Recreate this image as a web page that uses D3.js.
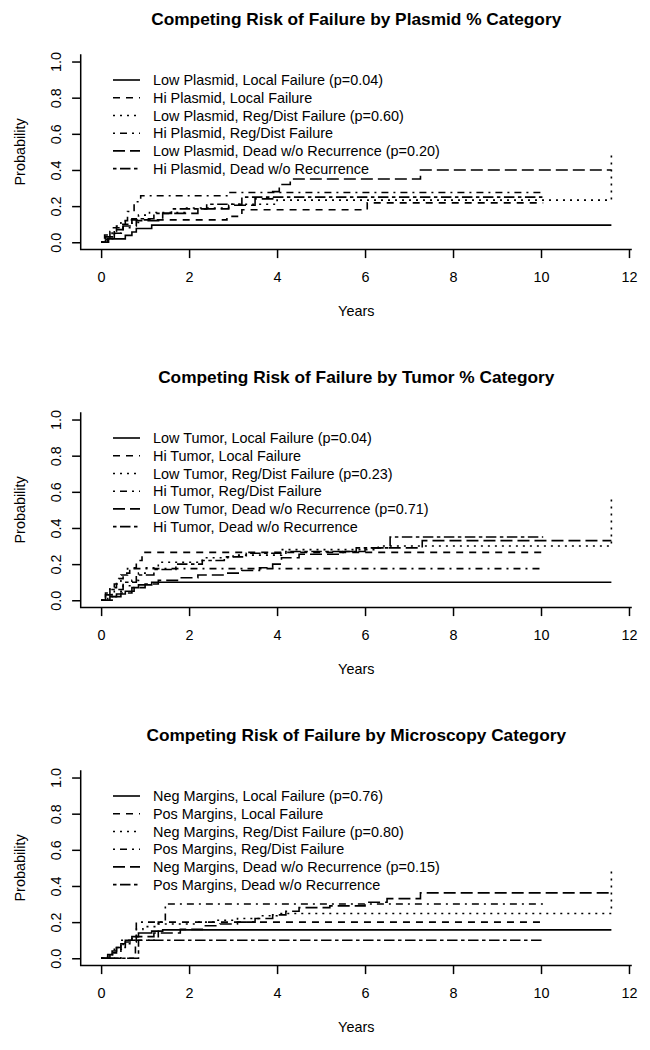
<!DOCTYPE html>
<html><head><meta charset="utf-8">
<script src="https://cdn.jsdelivr.net/npm/d3@7"></script>
<style>body{margin:0;background:#fff}svg{display:block}text{font-family:"Liberation Sans",Arial,sans-serif;fill:#000}</style>
</head><body>
<script>
// ---------- data ----------
const xTicks = [0, 2, 4, 6, 8, 10, 12];
const yTicks = [0, 0.2, 0.4, 0.6, 0.8, 1.0];
const yTickLabels = ["0.0", "0.2", "0.4", "0.6", "0.8", "1.0"];

const titles = [
  "Competing Risk of Failure by Plasmid % Category",
  "Competing Risk of Failure by Tumor % Category",
  "Competing Risk of Failure by Microscopy Category"
];
const legendPlasmid = ["Low Plasmid, Local Failure (p=0.04)", "Hi Plasmid, Local Failure",
  "Low Plasmid, Reg/Dist Failure (p=0.60)", "Hi Plasmid, Reg/Dist Failure",
  "Low Plasmid, Dead w/o Recurrence (p=0.20)", "Hi Plasmid, Dead w/o Recurrence"];
const legendTumor = ["Low Tumor, Local Failure (p=0.04)", "Hi Tumor, Local Failure",
  "Low Tumor, Reg/Dist Failure (p=0.23)", "Hi Tumor, Reg/Dist Failure",
  "Low Tumor, Dead w/o Recurrence (p=0.71)", "Hi Tumor, Dead w/o Recurrence"];
const legendMicro = ["Neg Margins, Local Failure (p=0.76)", "Pos Margins, Local Failure",
  "Neg Margins, Reg/Dist Failure (p=0.80)", "Pos Margins, Reg/Dist Failure",
  "Neg Margins, Dead w/o Recurrence (p=0.15)", "Pos Margins, Dead w/o Recurrence"];

// [years, cumulative probability]
const p1LowLocal = [[0,0],[0.17,0.019],[0.55,0.038],[0.7,0.057],[0.8,0.076],[1.15,0.095],[11.6,0.095]];
const p1HiLocal  = [[0,0],[0.1,0.03],[0.2,0.06],[0.35,0.09],[0.45,0.1],[0.55,0.124],[2.86,0.143],[3.2,0.18],[6.05,0.218],[10.05,0.218]];
const p1LowReg   = [[0,0],[0.12,0.02],[0.3,0.05],[0.5,0.08],[0.7,0.11],[0.85,0.15],[1.1,0.165],[1.9,0.19],[2.9,0.21],[4.0,0.233],[11.6,0.48]];
const p1HiReg    = [[0,0],[0.08,0.04],[0.25,0.08],[0.45,0.12],[0.6,0.17],[0.75,0.224],[0.9,0.257],[2.93,0.275],[10.05,0.275]];
const p1LowDead  = [[0,0],[0.15,0.02],[0.3,0.05],[0.5,0.09],[0.8,0.12],[1.4,0.16],[2.2,0.185],[2.9,0.205],[3.5,0.24],[3.9,0.28],[4.05,0.32],[4.3,0.35],[7.26,0.40],[11.6,0.40]];
const p1HiDead   = [[0,0],[0.1,0.03],[0.3,0.07],[0.5,0.1],[0.7,0.13],[1.2,0.16],[1.6,0.185],[2.4,0.21],[3.2,0.25],[10.05,0.25]];

const p2LowLocal = [[0,0],[0.2,0.02],[0.35,0.035],[0.55,0.05],[0.75,0.07],[0.85,0.085],[1.15,0.10],[11.6,0.10]];
const p2HiLocal  = [[0,0],[0.1,0.03],[0.2,0.06],[0.3,0.09],[0.4,0.12],[0.5,0.15],[0.65,0.18],[0.8,0.22],[0.93,0.265],[10.05,0.265]];
const p2LowReg   = [[0,0],[0.15,0.02],[0.3,0.05],[0.5,0.08],[0.7,0.11],[0.85,0.15],[1.0,0.18],[1.3,0.21],[2.3,0.235],[3.0,0.25],[4.1,0.28],[6.3,0.30],[11.6,0.56]];
const p2HiReg    = [[0,0],[0.1,0.04],[0.2,0.07],[0.35,0.1],[0.45,0.14],[0.6,0.175],[10.05,0.175]];
const p2LowDead  = [[0,0],[0.25,0.02],[0.45,0.04],[0.7,0.07],[1.0,0.09],[1.3,0.11],[1.8,0.125],[2.2,0.14],[2.8,0.15],[3.2,0.165],[3.6,0.18],[3.9,0.2],[4.1,0.235],[4.5,0.255],[5.5,0.27],[6.0,0.29],[7.3,0.33],[11.6,0.33]];
const p2HiDead   = [[0,0],[0.1,0.03],[0.25,0.06],[0.5,0.1],[0.8,0.14],[1.2,0.17],[1.7,0.2],[2.3,0.22],[2.8,0.24],[3.3,0.26],[4.2,0.27],[5.8,0.29],[6.57,0.35],[10.05,0.35]];

const p3NegLocal = [[0,0],[0.15,0.02],[0.25,0.04],[0.35,0.06],[0.45,0.08],[0.55,0.1],[0.7,0.12],[0.85,0.14],[1.15,0.15],[1.4,0.157],[11.6,0.157]];
const p3PosLocal = [[0,0],[0.78,0.1],[1.3,0.2],[10.0,0.2]];
const p3NegReg   = [[0,0],[0.15,0.02],[0.3,0.05],[0.5,0.08],[0.7,0.12],[0.8,0.16],[0.95,0.175],[1.3,0.19],[2.2,0.2],[2.6,0.21],[3.1,0.22],[3.6,0.235],[4.0,0.248],[11.6,0.48]];
const p3PosReg   = [[0,0],[0.45,0.1],[0.8,0.2],[1.46,0.3],[10.05,0.3]];
const p3NegDead  = [[0,0],[0.2,0.03],[0.35,0.06],[0.55,0.09],[0.8,0.12],[1.2,0.14],[1.8,0.16],[2.3,0.18],[2.7,0.19],[3.1,0.2],[3.5,0.22],[3.9,0.24],[4.2,0.26],[4.5,0.28],[5.2,0.29],[6.0,0.31],[6.5,0.33],[7.26,0.362],[11.6,0.362]];
const p3PosDead  = [[0,0],[0.85,0.1],[10.05,0.1]];

const panels = [
  {title: titles[0], legend: legendPlasmid, series: [p1LowLocal, p1HiLocal, p1LowReg, p1HiReg, p1LowDead, p1HiDead]},
  {title: titles[1], legend: legendTumor,   series: [p2LowLocal, p2HiLocal, p2LowReg, p2HiReg, p2LowDead, p2HiDead]},
  {title: titles[2], legend: legendMicro,   series: [p3NegLocal, p3PosLocal, p3NegReg, p3PosReg, p3NegDead, p3PosDead]}
];

// ---------- style ----------
const dashes = [null, "7,6", "2,5", "2,5,7,5", "12,5", "3.5,3.5,10.5,3.5"];
const W = 650, H = 1050;
const panelOffset = 358;
const fs = 14.4;
const lw = 1.6;

const svg = d3.select("body").append("svg").attr("width", W).attr("height", H);

const x = d3.scaleLinear().domain([-0.464, 12.064]).range([80.7, 631.8]);
const y = d3.scaleLinear().domain([-0.04, 1.04]).range([249.5, 54.3]);
const line = d3.line().x(d => x(d[0])).y(d => y(d[1])).curve(d3.curveStepAfter);

panels.forEach((pn, i) => {
  const g = svg.append("g").attr("transform", `translate(0,${i * panelOffset})`);
  const cx = (x.range()[0] + x.range()[1]) / 2;

  g.append("text").attr("x", cx).attr("y", 24.5).attr("text-anchor", "middle")
    .style("font-size", "17.3px").style("font-weight", "bold").text(pn.title);

  // L-shaped frame
  g.append("path").attr("d", `M${x.range()[0]},${y.range()[1]}V${y.range()[0]}H${x.range()[1]}`)
    .attr("fill", "none").attr("stroke", "#000").attr("stroke-width", 1.5);

  // x axis
  const xa = g.append("g").attr("transform", `translate(0,${y.range()[0]})`)
    .call(d3.axisBottom(x).tickValues(xTicks).tickSize(8.6).tickSizeOuter(0).tickFormat(d3.format("d")));
  xa.select(".domain").remove();
  xa.selectAll("line").attr("stroke", "#000").attr("stroke-width", 1.5);
  xa.selectAll("text").attr("y", 0).attr("dy", "32.5px").style("font-size", fs + "px")
    .style("font-family", '"Liberation Sans",Arial,sans-serif').attr("fill", "#000");

  // y axis
  const ya = g.append("g").attr("transform", `translate(${x.range()[0]},0)`)
    .call(d3.axisLeft(y).tickValues(yTicks).tickSize(8.6).tickSizeOuter(0).tickFormat((d, k) => yTickLabels[k]));
  ya.select(".domain").remove();
  ya.selectAll("line").attr("stroke", "#000").attr("stroke-width", 1.5);
  ya.selectAll("text").attr("x", null).attr("dy", null)
    .attr("transform", "translate(-19.5,0) rotate(-90)")
    .attr("text-anchor", "middle").attr("y", 0)
    .style("font-size", fs + "px").style("font-family", '"Liberation Sans",Arial,sans-serif').attr("fill", "#000");

  g.append("text").attr("transform", `translate(25,${y(0.5)}) rotate(-90)`).attr("text-anchor", "middle")
    .style("font-size", fs + "px").text("Probability");
  g.append("text").attr("x", cx).attr("y", 315.5).attr("text-anchor", "middle")
    .style("font-size", fs + "px").text("Years");

  // curves
  pn.series.forEach((s, k) => {
    g.append("path").attr("d", line(s)).attr("fill", "none").attr("stroke", "#000")
      .attr("stroke-width", lw).attr("stroke-dasharray", dashes[k]);
  });

  // legend
  pn.legend.forEach((lab, k) => {
    const ly = 80 + k * 17.73;
    g.append("line").attr("x1", 113).attr("x2", 140).attr("y1", ly).attr("y2", ly)
      .attr("stroke", "#000").attr("stroke-width", lw).attr("stroke-dasharray", dashes[k]);
    g.append("text").attr("x", 153).attr("y", ly + 5.2).style("font-size", fs + "px").text(lab);
  });
});
</script>
</body></html>
